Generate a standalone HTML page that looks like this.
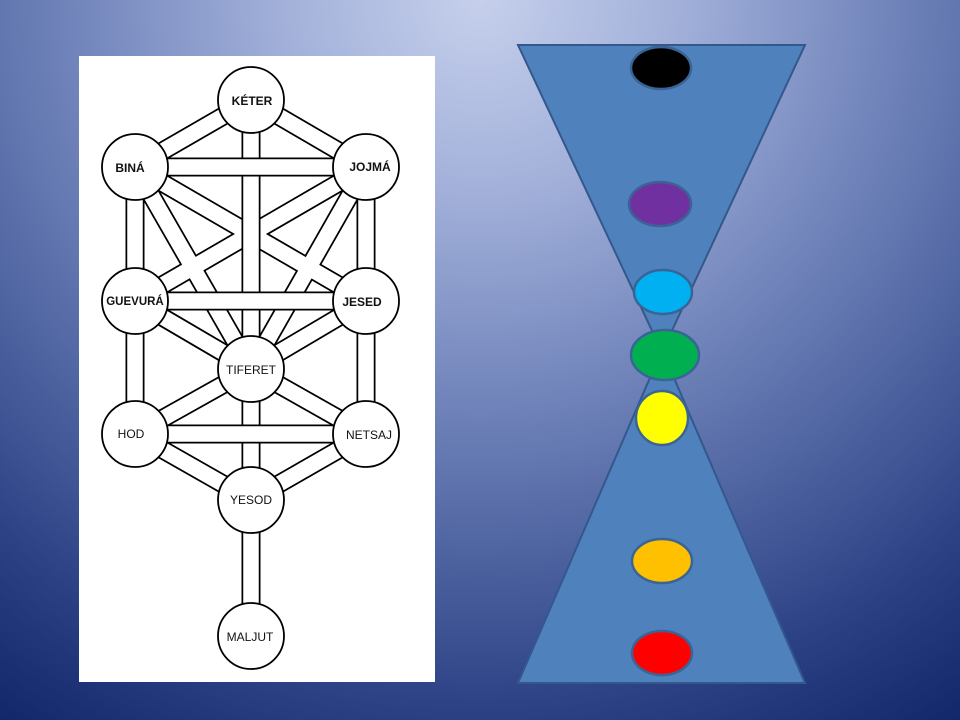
<!DOCTYPE html>
<html><head><meta charset="utf-8"><style>
html,body{margin:0;padding:0;width:960px;height:720px;overflow:hidden}
body{background:radial-gradient(ellipse 880px 860px at 480px 0px,#c6d0ec 0%,#a3b1da 22%,#7487bd 45%,#4d63a0 65%,#2c4285 82%,#12266a 100%)}
svg{position:absolute;left:0;top:0}
text{font-family:"Liberation Sans",sans-serif;font-size:12px;text-anchor:middle;dominant-baseline:central;fill:#111}
</style></head><body>
<svg width="960" height="720" viewBox="0 0 960 720">
<rect x="79" y="56" width="356" height="626" fill="#fff"/>
<g fill="none">
<g stroke="#000" stroke-width="19">
<line x1="135" y1="167" x2="251" y2="100"/><line x1="366" y1="167" x2="251" y2="100"/>
<line x1="135" y1="167" x2="366" y2="301"/><line x1="366" y1="167" x2="135" y2="301"/>
<line x1="135" y1="167" x2="251" y2="369"/><line x1="366" y1="167" x2="251" y2="369"/>
<line x1="135" y1="301" x2="251" y2="369"/><line x1="366" y1="301" x2="251" y2="369"/>
<line x1="135" y1="434" x2="251" y2="369"/><line x1="366" y1="434" x2="251" y2="369"/>
<line x1="135" y1="434" x2="251" y2="500"/><line x1="366" y1="434" x2="251" y2="500"/>
</g>
<g stroke="#fff" stroke-width="15.5">
<line x1="135" y1="167" x2="251" y2="100"/><line x1="366" y1="167" x2="251" y2="100"/>
<line x1="135" y1="167" x2="366" y2="301"/><line x1="366" y1="167" x2="135" y2="301"/>
<line x1="135" y1="167" x2="251" y2="369"/><line x1="366" y1="167" x2="251" y2="369"/>
<line x1="135" y1="301" x2="251" y2="369"/><line x1="366" y1="301" x2="251" y2="369"/>
<line x1="135" y1="434" x2="251" y2="369"/><line x1="366" y1="434" x2="251" y2="369"/>
<line x1="135" y1="434" x2="251" y2="500"/><line x1="366" y1="434" x2="251" y2="500"/>
</g>
<g stroke="#000" stroke-width="19">
<line x1="251" y1="100" x2="251" y2="636"/>
<line x1="135" y1="167" x2="135" y2="434"/><line x1="366" y1="167" x2="366" y2="434"/>
</g>
<g stroke="#fff" stroke-width="15.5">
<line x1="251" y1="100" x2="251" y2="636"/>
<line x1="135" y1="167" x2="135" y2="434"/><line x1="366" y1="167" x2="366" y2="434"/>
</g>
<g stroke="#000" stroke-width="19">
<line x1="135" y1="167" x2="366" y2="167"/><line x1="135" y1="301" x2="366" y2="301"/><line x1="135" y1="434" x2="366" y2="434"/>
</g>
<g stroke="#fff" stroke-width="15.5">
<line x1="135" y1="167" x2="366" y2="167"/><line x1="135" y1="301" x2="366" y2="301"/><line x1="135" y1="434" x2="366" y2="434"/>
</g>
</g>
<g fill="#fff" stroke="#000" stroke-width="1.8">
<circle cx="251" cy="100" r="33"/><circle cx="135" cy="167" r="33"/><circle cx="366" cy="167" r="33"/>
<circle cx="135" cy="301" r="33"/><circle cx="366" cy="301" r="33"/><circle cx="251" cy="369" r="33"/>
<circle cx="135" cy="434" r="33"/><circle cx="366" cy="434" r="33"/><circle cx="251" cy="500" r="33"/>
<circle cx="251" cy="636" r="33"/>
</g>
<text x="252" y="101" style="font-weight:bold">KÉTER</text>
<text x="130" y="168" style="font-weight:bold">BINÁ</text>
<text x="370" y="167" style="font-weight:bold">JOJMÁ</text>
<text x="135" y="302" style="font-weight:bold;font-size:11.5px">GUEVURÁ</text>
<text x="362" y="302" style="font-weight:bold">JESED</text>
<text x="251" y="370">TIFERET</text>
<text x="131" y="434">HOD</text>
<text x="369" y="435">NETSAJ</text>
<text x="251" y="500">YESOD</text>
<text x="250" y="637">MALJUT</text>

<g fill="#4f81bd" stroke="#34578c" stroke-width="2">
<polygon points="518,45 805,45 662,352"/>
<polygon points="518,683 805,683 662,350"/>
</g>
<g stroke="#3a6496" stroke-width="2.5">
<ellipse cx="661" cy="68" rx="30" ry="21" fill="#000"/>
<ellipse cx="660" cy="204" rx="31" ry="22" fill="#7030a0"/>
<ellipse cx="663" cy="292" rx="29" ry="22" fill="#00b0f0"/>
<ellipse cx="665" cy="355" rx="34" ry="25" fill="#00b050"/>
<ellipse cx="662" cy="418" rx="26" ry="27" fill="#ffff00"/>
<ellipse cx="662" cy="561" rx="30" ry="22" fill="#ffc000"/>
<ellipse cx="662" cy="653" rx="30" ry="22" fill="#ff0000"/>
</g>
</svg>
</body></html>
